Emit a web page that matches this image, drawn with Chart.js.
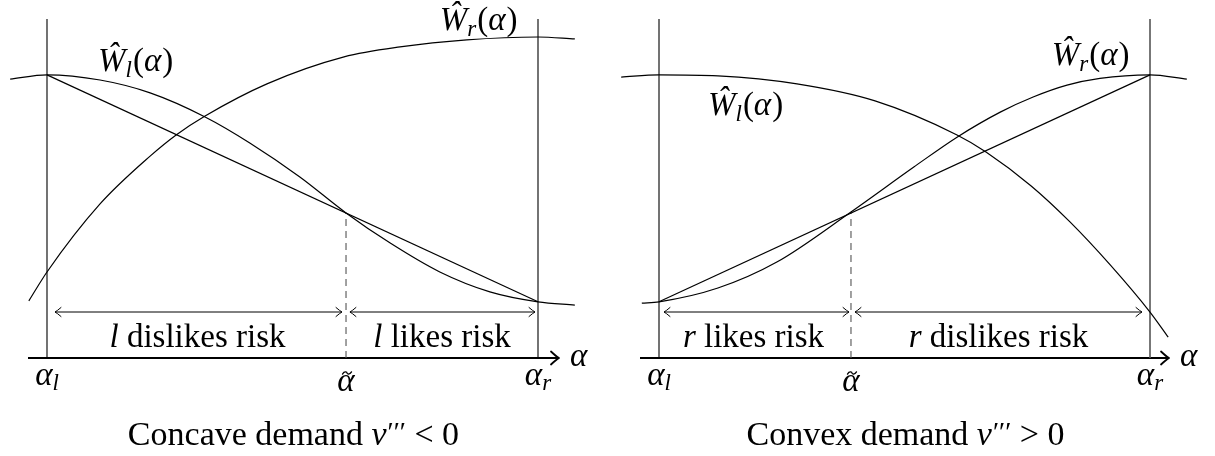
<!DOCTYPE html>
<html>
<head>
<meta charset="utf-8">
<script src="https://cdn.jsdelivr.net/npm/chart.js@4/dist/chart.umd.min.js"></script>
<style>
  html, body { margin: 0; padding: 0; background: #ffffff; }
  #wrap { position: relative; width: 1215px; height: 456px; background: #ffffff; }
  canvas { position: absolute; top: 0; }
</style>
</head>
<body>
<div id="wrap">
  <canvas id="left" width="607" height="456" style="left:0px"></canvas>
  <canvas id="right" width="608" height="456" style="left:607px"></canvas>
</div>
<script>
// ---------- DATA (alpha: alpha_l = 0, alpha_r = 1; W: axis = 0) ----------
// Left panel: concave demand
const leftWlAlpha = [-0.075, 0, 0.108, 0.210, 0.322, 0.413, 0.515, 0.609, 0.699, 0.800, 0.902, 1, 1.075];
const leftWl      = [0.869, 0.882, 0.866, 0.826, 0.751, 0.670, 0.564, 0.452, 0.358, 0.268, 0.206, 0.175, 0.165];
const leftWrAlpha = [-0.037, 0, 0.108, 0.210, 0.263, 0.322, 0.448, 0.605, 0.719, 0.855, 1, 1.075];
const leftWr      = [0.178, 0.268, 0.480, 0.629, 0.695, 0.754, 0.854, 0.938, 0.969, 0.991, 1.000, 0.994];
const leftChord   = [0.882, 0.175];       // W at alpha_l and alpha_r
const leftTilde   = 0.609;                // alpha tilde
const leftTildeW  = 0.452;

// Right panel: convex demand
const rightWlAlpha = [-0.077, 0, 0.120, 0.281, 0.440, 0.607, 0.666, 0.758, 0.837, 0.919, 1, 1.037];
const rightWl      = [0.875, 0.882, 0.879, 0.854, 0.801, 0.695, 0.642, 0.536, 0.424, 0.290, 0.143, 0.065];
const rightWrAlpha = [-0.035, 0, 0.120, 0.240, 0.391, 0.519, 0.607, 0.695, 0.762, 0.831, 0.898, 1, 1.075];
const rightWr      = [0.171, 0.175, 0.218, 0.299, 0.455, 0.595, 0.688, 0.766, 0.813, 0.850, 0.871, 0.882, 0.869];
const rightChord   = [0.175, 0.882];
const rightTilde   = 0.391;
const rightTildeW  = 0.455;

// Text
const leftRegionLabels  = [['l', ' dislikes risk'], ['l', ' likes risk']];
const rightRegionLabels = [['r', ' likes risk'], ['r', ' dislikes risk']];
const leftTitle  = ['Concave demand ', 'v', '′′′', ' < 0'];
const rightTitle = ['Convex demand ', 'v', '′′′', ' > 0'];

// ---------- helpers ----------
const SERIF = '"Liberation Serif", "DejaVu Serif", serif';
const FS = 33, SUB = 23, TFS = 34;
function F(size, italic) { return (italic ? 'italic ' : '') + size + 'px ' + SERIF; }

function pts(xs, ys) { return xs.map((x, i) => ({ x: x, y: ys[i] })); }

// parts: [{t, f, dy, dx}]
function drawParts(ctx, parts, x, y, align) {
  let w = 0;
  parts.forEach(p => { ctx.font = p.f; p.w = ctx.measureText(p.t).width + (p.dx || 0); w += p.w; });
  let cx = align === 'center' ? x - w / 2 : (align === 'right' ? x - w : x);
  ctx.textAlign = 'left';
  ctx.textBaseline = 'alphabetic';
  parts.forEach(p => { ctx.font = p.f; ctx.fillText(p.t, cx + (p.dx || 0), y + (p.dy || 0)); cx += p.w; });
  return w;
}

function chevron(ctx, x, y, dir, len, half, lw) {
  ctx.save();
  ctx.strokeStyle = '#000';
  ctx.lineWidth = lw;
  ctx.lineCap = 'round';
  ctx.lineJoin = 'round';
  ctx.beginPath();
  ctx.moveTo(x - dir * len, y - half);
  ctx.quadraticCurveTo(x - dir * len * 0.35, y - half * 0.25, x, y);
  ctx.quadraticCurveTo(x - dir * len * 0.35, y + half * 0.25, x - dir * len, y + half);
  ctx.stroke();
  ctx.restore();
}

function tilde(ctx, cx, cy, w, h) {
  ctx.save();
  ctx.strokeStyle = '#000';
  ctx.lineWidth = 1.3;
  ctx.lineCap = 'round';
  ctx.beginPath();
  ctx.moveTo(cx - w / 2, cy + h * 0.5);
  ctx.bezierCurveTo(cx - w / 4, cy - h * 1.2, cx, cy - h * 0.2, cx, cy);
  ctx.bezierCurveTo(cx, cy + h * 0.2, cx + w / 4, cy + h * 1.2, cx + w / 2, cy - h * 0.5);
  ctx.stroke();
  ctx.restore();
}

function makePanel(id, cfg) {
  const black = '#000000';
  const line = (data, extra) => Object.assign({
    data: data, borderColor: black, borderWidth: 1.2, pointRadius: 0,
    fill: false, tension: 0, showLine: true
  }, extra || {});
  const curve = (data) => line(data, { tension: 0.4, cubicInterpolationMode: 'monotone' });

  const datasets = [
    curve(pts(cfg.wlA, cfg.wl)),
    curve(pts(cfg.wrA, cfg.wr)),
    line([{ x: 0, y: cfg.chord[0] }, { x: 1, y: cfg.chord[1] }]),
    line([{ x: 0, y: 0 }, { x: 0, y: cfg.vTop }], { borderWidth: 1.1 }),
    line([{ x: 1, y: 0 }, { x: 1, y: cfg.vTop }], { borderWidth: cfg.rightVW, borderColor: cfg.rightVC }),
    line([{ x: cfg.tilde, y: 0 }, { x: cfg.tilde, y: cfg.tildeW }], { borderColor: '#555555', borderWidth: 1.1, borderDash: [7, 5] }),
    line([{ x: cfg.arrowL[0], y: cfg.arrowY }, { x: cfg.arrowL[1], y: cfg.arrowY }], { borderWidth: 1 }),
    line([{ x: cfg.arrowR[0], y: cfg.arrowY }, { x: cfg.arrowR[1], y: cfg.arrowY }], { borderWidth: 1 }),
    line([{ x: cfg.axis[0], y: 0 }, { x: cfg.axis[1], y: 0 }], { borderWidth: 2.2, borderCapStyle: 'butt' })
  ];

  const textPlugin = {
    id: 'texts',
    afterDatasetsDraw(chart) {
      const ctx = chart.ctx;
      const xs = chart.scales.x, ys = chart.scales.y;
      const X = a => xs.getPixelForValue(a), Y = w => ys.getPixelForValue(w);
      ctx.save();
      ctx.fillStyle = '#000';
      // arrow heads
      const ay = Y(cfg.arrowY);
      chevron(ctx, X(cfg.arrowL[0]), ay, -1, 6, 4.5, 1);
      chevron(ctx, X(cfg.arrowL[1]), ay, 1, 6, 4.5, 1);
      chevron(ctx, X(cfg.arrowR[0]), ay, -1, 6, 4.5, 1);
      chevron(ctx, X(cfg.arrowR[1]), ay, 1, 6, 4.5, 1);
      chevron(ctx, X(cfg.axis[1]) + 1, Y(0), 1, 8, 6.5, 1.8);

      // curve labels
      drawParts(ctx, [
        { t: 'Ŵ', f: F(FS, true), dx: 0 }, { t: 'l', f: F(SUB, true), dy: 6 },
        { t: '(', f: F(FS, false), dx: 1 }, { t: 'α', f: F(FS, true) }, { t: ')', f: F(FS, false), dx: 1 }
      ], X(cfg.wlLab[0]), Y(cfg.wlLab[1]), 'left');
      drawParts(ctx, [
        { t: 'Ŵ', f: F(FS, true), dx: 0 }, { t: 'r', f: F(SUB, true), dy: 6 },
        { t: '(', f: F(FS, false), dx: 1 }, { t: 'α', f: F(FS, true) }, { t: ')', f: F(FS, false), dx: 1 }
      ], X(cfg.wrLab[0]), Y(cfg.wrLab[1]), 'left');

      // region labels
      const ry = Y(cfg.regionY);
      cfg.regions.forEach((r, i) => {
        drawParts(ctx, [{ t: r[0], f: F(FS, true) }, { t: r[1], f: F(FS, false) }], X(cfg.regionX[i]), ry, 'center');
      });

      // tick labels
      const ty = Y(cfg.tickY);
      drawParts(ctx, [{ t: 'α', f: F(FS, true) }, { t: 'l', f: F(SUB, true), dy: 5 }], X(0), ty, 'center');
      drawParts(ctx, [{ t: 'α', f: F(FS, true) }, { t: 'r', f: F(SUB, true), dy: 5 }], X(1), ty, 'center');
      ctx.font = F(FS, true);
      ctx.textAlign = 'center';
      ctx.fillText('α', X(cfg.tilde), ty + 6);
      tilde(ctx, X(cfg.tilde) + 1, ty - 12, 9, 2.2);
      // axis label
      drawParts(ctx, [{ t: 'α', f: F(FS, true) }], X(cfg.axisLab[0]), Y(cfg.axisLab[1]), 'left');

      // title
      drawParts(ctx, [
        { t: cfg.title[0], f: F(TFS, false) }, { t: cfg.title[1], f: F(TFS, true) },
        { t: cfg.title[2], f: F(28, false), dy: -4, dx: 1 }, { t: cfg.title[3], f: F(TFS, false) }
      ], X(cfg.titleX), Y(cfg.titleY), 'center');
      ctx.restore();
    }
  };

  return new Chart(document.getElementById(id), {
    type: 'line',
    data: { datasets: datasets },
    options: {
      responsive: false,
      devicePixelRatio: 1,
      animation: false,
      layout: { padding: 0 },
      plugins: { legend: { display: false }, tooltip: { enabled: false } },
      elements: { line: { borderJoinStyle: 'round' } },
      scales: {
        x: { type: 'linear', display: false, min: cfg.xmin, max: cfg.xmax },
        y: { type: 'linear', display: false, min: -0.3053, max: 1.1153 }
      }
    },
    plugins: [textPlugin]
  });
}

makePanel('left', {
  xmin: -0.09572, xmax: 1.14053,
  wlA: leftWlAlpha, wl: leftWl, wrA: leftWrAlpha, wr: leftWr,
  chord: leftChord, tilde: leftTilde, tildeW: leftTildeW,
  vTop: 1.056, rightVW: 1.1, rightVC: '#000000',
  axis: [-0.0387, 1.0407], arrowY: 0.1433,
  arrowL: [0.0163, 0.6008], arrowR: [0.617, 0.9939],
  wlLab: [0.104, 0.894], wrLab: [0.800, 1.022],
  regions: leftRegionLabels, regionX: [0.3065, 0.8045], regionY: 0.0343,
  tickY: -0.0841, axisLab: [1.065, -0.025],
  title: leftTitle, titleX: 0.502, titleY: -0.271
});

makePanel('right', {
  xmin: -0.10591, xmax: 1.13238,
  wlA: rightWlAlpha, wl: rightWl, wrA: rightWrAlpha, wr: rightWr,
  chord: rightChord, tilde: rightTilde, tildeW: rightTildeW,
  vTop: 1.056, rightVW: 1.6, rightVC: '#555555',
  axis: [-0.0387, 1.0367], arrowY: 0.1433,
  arrowL: [0.0102, 0.387], arrowR: [0.3992, 0.9837],
  wlLab: [0.0998, 0.757], wrLab: [0.800, 0.913],
  regions: rightRegionLabels, regionX: [0.1925, 0.6914], regionY: 0.0343,
  tickY: -0.0841, axisLab: [1.061, -0.025],
  title: rightTitle, titleX: 0.502, titleY: -0.271
});
</script>
</body>
</html>
